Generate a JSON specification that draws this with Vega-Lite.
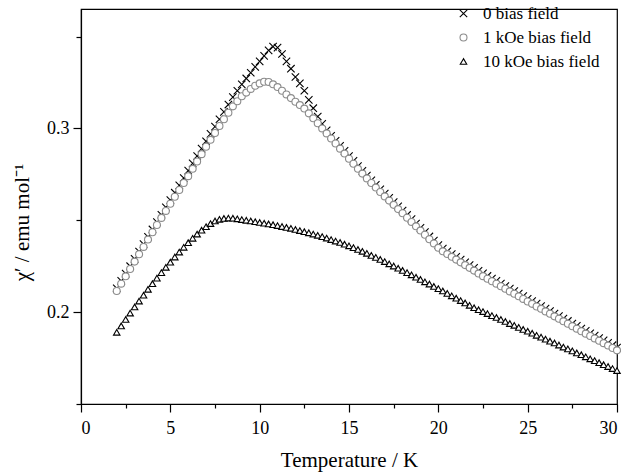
{
"$schema": "https://vega.github.io/schema/vega-lite/v6.json",
"width": 536, "height": 395,
"autosize": {"type": "none"},
"padding": {"left": 81, "top": 9, "right": 9, "bottom": 68},
"background": "white",
"config": {"view": {"stroke": "black", "strokeWidth": 1.2}},
"data": {"values": [
{"T":2.00,"s":"0 bias field","v":0.2130},{"T":2.25,"s":"0 bias field","v":0.2170},{"T":2.50,"s":"0 bias field","v":0.2210},{"T":2.75,"s":"0 bias field","v":0.2250},{"T":3.00,"s":"0 bias field","v":0.2290},{"T":3.25,"s":"0 bias field","v":0.2330},{"T":3.50,"s":"0 bias field","v":0.2370},{"T":3.75,"s":"0 bias field","v":0.2410},{"T":4.00,"s":"0 bias field","v":0.2450},{"T":4.25,"s":"0 bias field","v":0.2490},{"T":4.50,"s":"0 bias field","v":0.2530},{"T":4.75,"s":"0 bias field","v":0.2570},{"T":5.00,"s":"0 bias field","v":0.2610},{"T":5.25,"s":"0 bias field","v":0.2650},{"T":5.50,"s":"0 bias field","v":0.2690},{"T":5.75,"s":"0 bias field","v":0.2730},{"T":6.00,"s":"0 bias field","v":0.2770},{"T":6.25,"s":"0 bias field","v":0.2810},{"T":6.50,"s":"0 bias field","v":0.2850},{"T":6.75,"s":"0 bias field","v":0.2890},{"T":7.00,"s":"0 bias field","v":0.2930},{"T":7.25,"s":"0 bias field","v":0.2970},{"T":7.50,"s":"0 bias field","v":0.3010},{"T":7.75,"s":"0 bias field","v":0.3050},{"T":8.00,"s":"0 bias field","v":0.3090},{"T":8.25,"s":"0 bias field","v":0.3130},{"T":8.50,"s":"0 bias field","v":0.3170},{"T":8.75,"s":"0 bias field","v":0.3205},{"T":9.00,"s":"0 bias field","v":0.3240},{"T":9.25,"s":"0 bias field","v":0.3272},{"T":9.50,"s":"0 bias field","v":0.3303},{"T":9.75,"s":"0 bias field","v":0.3335},{"T":10.00,"s":"0 bias field","v":0.3365},{"T":10.25,"s":"0 bias field","v":0.3395},{"T":10.50,"s":"0 bias field","v":0.3425},{"T":10.75,"s":"0 bias field","v":0.3445},{"T":11.00,"s":"0 bias field","v":0.3440},{"T":11.25,"s":"0 bias field","v":0.3405},{"T":11.50,"s":"0 bias field","v":0.3365},{"T":11.75,"s":"0 bias field","v":0.3325},{"T":12.00,"s":"0 bias field","v":0.3280},{"T":12.25,"s":"0 bias field","v":0.3245},{"T":12.50,"s":"0 bias field","v":0.3205},{"T":12.75,"s":"0 bias field","v":0.3155},{"T":13.00,"s":"0 bias field","v":0.3110},{"T":13.25,"s":"0 bias field","v":0.3065},{"T":13.50,"s":"0 bias field","v":0.3025},{"T":13.75,"s":"0 bias field","v":0.2990},{"T":14.00,"s":"0 bias field","v":0.2960},{"T":14.25,"s":"0 bias field","v":0.2933},{"T":14.50,"s":"0 bias field","v":0.2905},{"T":14.75,"s":"0 bias field","v":0.2878},{"T":15.00,"s":"0 bias field","v":0.2850},{"T":15.25,"s":"0 bias field","v":0.2823},{"T":15.50,"s":"0 bias field","v":0.2795},{"T":15.75,"s":"0 bias field","v":0.2769},{"T":16.00,"s":"0 bias field","v":0.2743},{"T":16.25,"s":"0 bias field","v":0.2718},{"T":16.50,"s":"0 bias field","v":0.2693},{"T":16.75,"s":"0 bias field","v":0.2669},{"T":17.00,"s":"0 bias field","v":0.2645},{"T":17.25,"s":"0 bias field","v":0.2622},{"T":17.50,"s":"0 bias field","v":0.2599},{"T":17.75,"s":"0 bias field","v":0.2576},{"T":18.00,"s":"0 bias field","v":0.2553},{"T":18.25,"s":"0 bias field","v":0.2529},{"T":18.50,"s":"0 bias field","v":0.2506},{"T":18.75,"s":"0 bias field","v":0.2482},{"T":19.00,"s":"0 bias field","v":0.2459},{"T":19.25,"s":"0 bias field","v":0.2436},{"T":19.50,"s":"0 bias field","v":0.2412},{"T":19.75,"s":"0 bias field","v":0.2389},{"T":20.00,"s":"0 bias field","v":0.2365},{"T":20.25,"s":"0 bias field","v":0.2346},{"T":20.50,"s":"0 bias field","v":0.2331},{"T":20.75,"s":"0 bias field","v":0.2316},{"T":21.00,"s":"0 bias field","v":0.2301},{"T":21.25,"s":"0 bias field","v":0.2286},{"T":21.50,"s":"0 bias field","v":0.2271},{"T":21.75,"s":"0 bias field","v":0.2256},{"T":22.00,"s":"0 bias field","v":0.2241},{"T":22.25,"s":"0 bias field","v":0.2225},{"T":22.50,"s":"0 bias field","v":0.2211},{"T":22.75,"s":"0 bias field","v":0.2197},{"T":23.00,"s":"0 bias field","v":0.2183},{"T":23.25,"s":"0 bias field","v":0.2170},{"T":23.50,"s":"0 bias field","v":0.2156},{"T":23.75,"s":"0 bias field","v":0.2142},{"T":24.00,"s":"0 bias field","v":0.2128},{"T":24.25,"s":"0 bias field","v":0.2115},{"T":24.50,"s":"0 bias field","v":0.2101},{"T":24.75,"s":"0 bias field","v":0.2087},{"T":25.00,"s":"0 bias field","v":0.2073},{"T":25.25,"s":"0 bias field","v":0.2060},{"T":25.50,"s":"0 bias field","v":0.2046},{"T":25.75,"s":"0 bias field","v":0.2033},{"T":26.00,"s":"0 bias field","v":0.2019},{"T":26.25,"s":"0 bias field","v":0.2006},{"T":26.50,"s":"0 bias field","v":0.1992},{"T":26.75,"s":"0 bias field","v":0.1979},{"T":27.00,"s":"0 bias field","v":0.1965},{"T":27.25,"s":"0 bias field","v":0.1952},{"T":27.50,"s":"0 bias field","v":0.1938},{"T":27.75,"s":"0 bias field","v":0.1925},{"T":28.00,"s":"0 bias field","v":0.1911},{"T":28.25,"s":"0 bias field","v":0.1898},{"T":28.50,"s":"0 bias field","v":0.1885},{"T":28.75,"s":"0 bias field","v":0.1872},{"T":29.00,"s":"0 bias field","v":0.1859},{"T":29.25,"s":"0 bias field","v":0.1846},{"T":29.50,"s":"0 bias field","v":0.1833},{"T":29.75,"s":"0 bias field","v":0.1820},{"T":30.00,"s":"0 bias field","v":0.1807},
{"T":2.00,"s":"1 kOe bias field","v":0.2115},{"T":2.25,"s":"1 kOe bias field","v":0.2155},{"T":2.50,"s":"1 kOe bias field","v":0.2195},{"T":2.75,"s":"1 kOe bias field","v":0.2235},{"T":3.00,"s":"1 kOe bias field","v":0.2275},{"T":3.25,"s":"1 kOe bias field","v":0.2315},{"T":3.50,"s":"1 kOe bias field","v":0.2355},{"T":3.75,"s":"1 kOe bias field","v":0.2395},{"T":4.00,"s":"1 kOe bias field","v":0.2435},{"T":4.25,"s":"1 kOe bias field","v":0.2474},{"T":4.50,"s":"1 kOe bias field","v":0.2513},{"T":4.75,"s":"1 kOe bias field","v":0.2551},{"T":5.00,"s":"1 kOe bias field","v":0.2590},{"T":5.25,"s":"1 kOe bias field","v":0.2628},{"T":5.50,"s":"1 kOe bias field","v":0.2665},{"T":5.75,"s":"1 kOe bias field","v":0.2703},{"T":6.00,"s":"1 kOe bias field","v":0.2740},{"T":6.25,"s":"1 kOe bias field","v":0.2780},{"T":6.50,"s":"1 kOe bias field","v":0.2820},{"T":6.75,"s":"1 kOe bias field","v":0.2860},{"T":7.00,"s":"1 kOe bias field","v":0.2900},{"T":7.25,"s":"1 kOe bias field","v":0.2938},{"T":7.50,"s":"1 kOe bias field","v":0.2975},{"T":7.75,"s":"1 kOe bias field","v":0.3013},{"T":8.00,"s":"1 kOe bias field","v":0.3050},{"T":8.25,"s":"1 kOe bias field","v":0.3085},{"T":8.50,"s":"1 kOe bias field","v":0.3120},{"T":8.75,"s":"1 kOe bias field","v":0.3148},{"T":9.00,"s":"1 kOe bias field","v":0.3175},{"T":9.25,"s":"1 kOe bias field","v":0.3195},{"T":9.50,"s":"1 kOe bias field","v":0.3215},{"T":9.75,"s":"1 kOe bias field","v":0.3232},{"T":10.00,"s":"1 kOe bias field","v":0.3245},{"T":10.25,"s":"1 kOe bias field","v":0.3254},{"T":10.50,"s":"1 kOe bias field","v":0.3253},{"T":10.75,"s":"1 kOe bias field","v":0.3240},{"T":11.00,"s":"1 kOe bias field","v":0.3225},{"T":11.25,"s":"1 kOe bias field","v":0.3205},{"T":11.50,"s":"1 kOe bias field","v":0.3185},{"T":11.75,"s":"1 kOe bias field","v":0.3165},{"T":12.00,"s":"1 kOe bias field","v":0.3145},{"T":12.25,"s":"1 kOe bias field","v":0.3127},{"T":12.50,"s":"1 kOe bias field","v":0.3108},{"T":12.75,"s":"1 kOe bias field","v":0.3082},{"T":13.00,"s":"1 kOe bias field","v":0.3055},{"T":13.25,"s":"1 kOe bias field","v":0.3028},{"T":13.50,"s":"1 kOe bias field","v":0.3000},{"T":13.75,"s":"1 kOe bias field","v":0.2973},{"T":14.00,"s":"1 kOe bias field","v":0.2945},{"T":14.25,"s":"1 kOe bias field","v":0.2918},{"T":14.50,"s":"1 kOe bias field","v":0.2890},{"T":14.75,"s":"1 kOe bias field","v":0.2863},{"T":15.00,"s":"1 kOe bias field","v":0.2835},{"T":15.25,"s":"1 kOe bias field","v":0.2808},{"T":15.50,"s":"1 kOe bias field","v":0.2780},{"T":15.75,"s":"1 kOe bias field","v":0.2754},{"T":16.00,"s":"1 kOe bias field","v":0.2728},{"T":16.25,"s":"1 kOe bias field","v":0.2703},{"T":16.50,"s":"1 kOe bias field","v":0.2678},{"T":16.75,"s":"1 kOe bias field","v":0.2654},{"T":17.00,"s":"1 kOe bias field","v":0.2630},{"T":17.25,"s":"1 kOe bias field","v":0.2607},{"T":17.50,"s":"1 kOe bias field","v":0.2584},{"T":17.75,"s":"1 kOe bias field","v":0.2561},{"T":18.00,"s":"1 kOe bias field","v":0.2538},{"T":18.25,"s":"1 kOe bias field","v":0.2514},{"T":18.50,"s":"1 kOe bias field","v":0.2491},{"T":18.75,"s":"1 kOe bias field","v":0.2467},{"T":19.00,"s":"1 kOe bias field","v":0.2444},{"T":19.25,"s":"1 kOe bias field","v":0.2421},{"T":19.50,"s":"1 kOe bias field","v":0.2397},{"T":19.75,"s":"1 kOe bias field","v":0.2374},{"T":20.00,"s":"1 kOe bias field","v":0.2350},{"T":20.25,"s":"1 kOe bias field","v":0.2331},{"T":20.50,"s":"1 kOe bias field","v":0.2316},{"T":20.75,"s":"1 kOe bias field","v":0.2301},{"T":21.00,"s":"1 kOe bias field","v":0.2286},{"T":21.25,"s":"1 kOe bias field","v":0.2271},{"T":21.50,"s":"1 kOe bias field","v":0.2256},{"T":21.75,"s":"1 kOe bias field","v":0.2241},{"T":22.00,"s":"1 kOe bias field","v":0.2226},{"T":22.25,"s":"1 kOe bias field","v":0.2210},{"T":22.50,"s":"1 kOe bias field","v":0.2196},{"T":22.75,"s":"1 kOe bias field","v":0.2182},{"T":23.00,"s":"1 kOe bias field","v":0.2168},{"T":23.25,"s":"1 kOe bias field","v":0.2155},{"T":23.50,"s":"1 kOe bias field","v":0.2141},{"T":23.75,"s":"1 kOe bias field","v":0.2127},{"T":24.00,"s":"1 kOe bias field","v":0.2113},{"T":24.25,"s":"1 kOe bias field","v":0.2100},{"T":24.50,"s":"1 kOe bias field","v":0.2086},{"T":24.75,"s":"1 kOe bias field","v":0.2072},{"T":25.00,"s":"1 kOe bias field","v":0.2058},{"T":25.25,"s":"1 kOe bias field","v":0.2045},{"T":25.50,"s":"1 kOe bias field","v":0.2031},{"T":25.75,"s":"1 kOe bias field","v":0.2018},{"T":26.00,"s":"1 kOe bias field","v":0.2004},{"T":26.25,"s":"1 kOe bias field","v":0.1991},{"T":26.50,"s":"1 kOe bias field","v":0.1977},{"T":26.75,"s":"1 kOe bias field","v":0.1964},{"T":27.00,"s":"1 kOe bias field","v":0.1950},{"T":27.25,"s":"1 kOe bias field","v":0.1937},{"T":27.50,"s":"1 kOe bias field","v":0.1923},{"T":27.75,"s":"1 kOe bias field","v":0.1910},{"T":28.00,"s":"1 kOe bias field","v":0.1896},{"T":28.25,"s":"1 kOe bias field","v":0.1883},{"T":28.50,"s":"1 kOe bias field","v":0.1870},{"T":28.75,"s":"1 kOe bias field","v":0.1857},{"T":29.00,"s":"1 kOe bias field","v":0.1844},{"T":29.25,"s":"1 kOe bias field","v":0.1831},{"T":29.50,"s":"1 kOe bias field","v":0.1818},{"T":29.75,"s":"1 kOe bias field","v":0.1805},{"T":30.00,"s":"1 kOe bias field","v":0.1792},
{"T":2.00,"s":"10 kOe bias field","v":0.1890},{"T":2.25,"s":"10 kOe bias field","v":0.1925},{"T":2.50,"s":"10 kOe bias field","v":0.1960},{"T":2.75,"s":"10 kOe bias field","v":0.1995},{"T":3.00,"s":"10 kOe bias field","v":0.2028},{"T":3.25,"s":"10 kOe bias field","v":0.2060},{"T":3.50,"s":"10 kOe bias field","v":0.2092},{"T":3.75,"s":"10 kOe bias field","v":0.2124},{"T":4.00,"s":"10 kOe bias field","v":0.2155},{"T":4.25,"s":"10 kOe bias field","v":0.2185},{"T":4.50,"s":"10 kOe bias field","v":0.2215},{"T":4.75,"s":"10 kOe bias field","v":0.2244},{"T":5.00,"s":"10 kOe bias field","v":0.2272},{"T":5.25,"s":"10 kOe bias field","v":0.2300},{"T":5.50,"s":"10 kOe bias field","v":0.2327},{"T":5.75,"s":"10 kOe bias field","v":0.2353},{"T":6.00,"s":"10 kOe bias field","v":0.2378},{"T":6.25,"s":"10 kOe bias field","v":0.2402},{"T":6.50,"s":"10 kOe bias field","v":0.2425},{"T":6.75,"s":"10 kOe bias field","v":0.2446},{"T":7.00,"s":"10 kOe bias field","v":0.2465},{"T":7.25,"s":"10 kOe bias field","v":0.2482},{"T":7.50,"s":"10 kOe bias field","v":0.2496},{"T":7.75,"s":"10 kOe bias field","v":0.2505},{"T":8.00,"s":"10 kOe bias field","v":0.2510},{"T":8.25,"s":"10 kOe bias field","v":0.2512},{"T":8.50,"s":"10 kOe bias field","v":0.2511},{"T":8.75,"s":"10 kOe bias field","v":0.2508},{"T":9.00,"s":"10 kOe bias field","v":0.2504},{"T":9.25,"s":"10 kOe bias field","v":0.2500},{"T":9.50,"s":"10 kOe bias field","v":0.2496},{"T":9.75,"s":"10 kOe bias field","v":0.2492},{"T":10.00,"s":"10 kOe bias field","v":0.2488},{"T":10.25,"s":"10 kOe bias field","v":0.2484},{"T":10.50,"s":"10 kOe bias field","v":0.2480},{"T":10.75,"s":"10 kOe bias field","v":0.2476},{"T":11.00,"s":"10 kOe bias field","v":0.2471},{"T":11.25,"s":"10 kOe bias field","v":0.2466},{"T":11.50,"s":"10 kOe bias field","v":0.2461},{"T":11.75,"s":"10 kOe bias field","v":0.2456},{"T":12.00,"s":"10 kOe bias field","v":0.2450},{"T":12.25,"s":"10 kOe bias field","v":0.2444},{"T":12.50,"s":"10 kOe bias field","v":0.2438},{"T":12.75,"s":"10 kOe bias field","v":0.2432},{"T":13.00,"s":"10 kOe bias field","v":0.2425},{"T":13.25,"s":"10 kOe bias field","v":0.2418},{"T":13.50,"s":"10 kOe bias field","v":0.2411},{"T":13.75,"s":"10 kOe bias field","v":0.2403},{"T":14.00,"s":"10 kOe bias field","v":0.2395},{"T":14.25,"s":"10 kOe bias field","v":0.2387},{"T":14.50,"s":"10 kOe bias field","v":0.2379},{"T":14.75,"s":"10 kOe bias field","v":0.2370},{"T":15.00,"s":"10 kOe bias field","v":0.2361},{"T":15.25,"s":"10 kOe bias field","v":0.2351},{"T":15.50,"s":"10 kOe bias field","v":0.2341},{"T":15.75,"s":"10 kOe bias field","v":0.2331},{"T":16.00,"s":"10 kOe bias field","v":0.2320},{"T":16.25,"s":"10 kOe bias field","v":0.2309},{"T":16.50,"s":"10 kOe bias field","v":0.2298},{"T":16.75,"s":"10 kOe bias field","v":0.2287},{"T":17.00,"s":"10 kOe bias field","v":0.2275},{"T":17.25,"s":"10 kOe bias field","v":0.2263},{"T":17.50,"s":"10 kOe bias field","v":0.2251},{"T":17.75,"s":"10 kOe bias field","v":0.2239},{"T":18.00,"s":"10 kOe bias field","v":0.2227},{"T":18.25,"s":"10 kOe bias field","v":0.2215},{"T":18.50,"s":"10 kOe bias field","v":0.2203},{"T":18.75,"s":"10 kOe bias field","v":0.2190},{"T":19.00,"s":"10 kOe bias field","v":0.2178},{"T":19.25,"s":"10 kOe bias field","v":0.2165},{"T":19.50,"s":"10 kOe bias field","v":0.2153},{"T":19.75,"s":"10 kOe bias field","v":0.2140},{"T":20.00,"s":"10 kOe bias field","v":0.2128},{"T":20.25,"s":"10 kOe bias field","v":0.2115},{"T":20.50,"s":"10 kOe bias field","v":0.2102},{"T":20.75,"s":"10 kOe bias field","v":0.2089},{"T":21.00,"s":"10 kOe bias field","v":0.2076},{"T":21.25,"s":"10 kOe bias field","v":0.2063},{"T":21.50,"s":"10 kOe bias field","v":0.2050},{"T":21.75,"s":"10 kOe bias field","v":0.2037},{"T":22.00,"s":"10 kOe bias field","v":0.2024},{"T":22.25,"s":"10 kOe bias field","v":0.2013},{"T":22.50,"s":"10 kOe bias field","v":0.2003},{"T":22.75,"s":"10 kOe bias field","v":0.1992},{"T":23.00,"s":"10 kOe bias field","v":0.1981},{"T":23.25,"s":"10 kOe bias field","v":0.1971},{"T":23.50,"s":"10 kOe bias field","v":0.1960},{"T":23.75,"s":"10 kOe bias field","v":0.1949},{"T":24.00,"s":"10 kOe bias field","v":0.1938},{"T":24.25,"s":"10 kOe bias field","v":0.1928},{"T":24.50,"s":"10 kOe bias field","v":0.1917},{"T":24.75,"s":"10 kOe bias field","v":0.1906},{"T":25.00,"s":"10 kOe bias field","v":0.1896},{"T":25.25,"s":"10 kOe bias field","v":0.1885},{"T":25.50,"s":"10 kOe bias field","v":0.1874},{"T":25.75,"s":"10 kOe bias field","v":0.1864},{"T":26.00,"s":"10 kOe bias field","v":0.1853},{"T":26.25,"s":"10 kOe bias field","v":0.1842},{"T":26.50,"s":"10 kOe bias field","v":0.1832},{"T":26.75,"s":"10 kOe bias field","v":0.1821},{"T":27.00,"s":"10 kOe bias field","v":0.1810},{"T":27.25,"s":"10 kOe bias field","v":0.1800},{"T":27.50,"s":"10 kOe bias field","v":0.1789},{"T":27.75,"s":"10 kOe bias field","v":0.1778},{"T":28.00,"s":"10 kOe bias field","v":0.1768},{"T":28.25,"s":"10 kOe bias field","v":0.1757},{"T":28.50,"s":"10 kOe bias field","v":0.1746},{"T":28.75,"s":"10 kOe bias field","v":0.1736},{"T":29.00,"s":"10 kOe bias field","v":0.1725},{"T":29.25,"s":"10 kOe bias field","v":0.1714},{"T":29.50,"s":"10 kOe bias field","v":0.1704},{"T":29.75,"s":"10 kOe bias field","v":0.1693},{"T":30.00,"s":"10 kOe bias field","v":0.1682}
]},
"mark": {"type": "point", "filled": false, "fill": "white", "strokeWidth": 1.1, "opacity": 1},
"encoding": {
"x": {"field": "T", "type": "quantitative",
 "scale": {"domain": [0, 30], "nice": false, "zero": false},
 "axis": {"values": [0, 2.5, 5, 7.5, 10, 12.5, 15, 17.5, 20, 22.5, 25, 27.5, 30],
  "labelExpr": "datum.value % 5 === 0 ? format(datum.value, 'd') : ''",
  "tickSize": {"condition": {"test": "datum.value % 5 === 0", "value": 8}, "value": 4},
  "grid": false, "domainColor": "black", "domainWidth": 1.2, "tickColor": "black", "tickWidth": 1.2,
  "labelFont": "Times New Roman", "labelFontSize": 18, "labelColor": "black", "labelPadding": 7,
  "title": "Temperature / K", "titleFont": "Times New Roman", "titleFontSize": 21, "titleFontWeight": "normal", "titleColor": "black", "titlePadding": 12}},
"y": {"field": "v", "type": "quantitative",
 "scale": {"domain": [0.15, 0.365], "nice": false, "zero": false},
 "axis": {"values": [0.15, 0.2, 0.25, 0.3, 0.35],
  "labelExpr": "abs(datum.value * 10 - round(datum.value * 10)) < 0.001 ? format(datum.value, '.1f') : ''",
  "tickSize": {"condition": {"test": "abs(datum.value * 10 - round(datum.value * 10)) < 0.001", "value": 8}, "value": 5},
  "grid": false, "domainColor": "black", "domainWidth": 1.2, "tickColor": "black", "tickWidth": 1.2,
  "labelFont": "Times New Roman", "labelFontSize": 18, "labelColor": "black", "labelPadding": 4,
  "title": "χ′ / emu mol⁻¹", "titleFont": "Times New Roman", "titleFontSize": 21, "titleFontWeight": "normal", "titleColor": "black", "titlePadding": 14, "titleY": 213}},
"color": {"field": "s", "type": "nominal",
 "scale": {"domain": ["0 bias field", "1 kOe bias field", "10 kOe bias field"], "range": ["black", "#8c8c8c", "black"]},
 "legend": {"orient": "none", "legendX": 374, "legendY": -4, "title": null,
  "labelFont": "Times New Roman", "labelFontSize": 17, "labelColor": "black", "labelOffset": 11, "rowPadding": 6, "symbolStrokeWidth": 1.1}},
"shape": {"field": "s", "type": "nominal",
 "scale": {"domain": ["0 bias field", "1 kOe bias field", "10 kOe bias field"], "range": ["M-1,-1L1,1M-1,1L1,-1", "circle", "triangle-up"]}},
"size": {"field": "s", "type": "nominal",
 "scale": {"domain": ["0 bias field", "1 kOe bias field", "10 kOe bias field"], "range": [55, 42, 70]}}
}
}
